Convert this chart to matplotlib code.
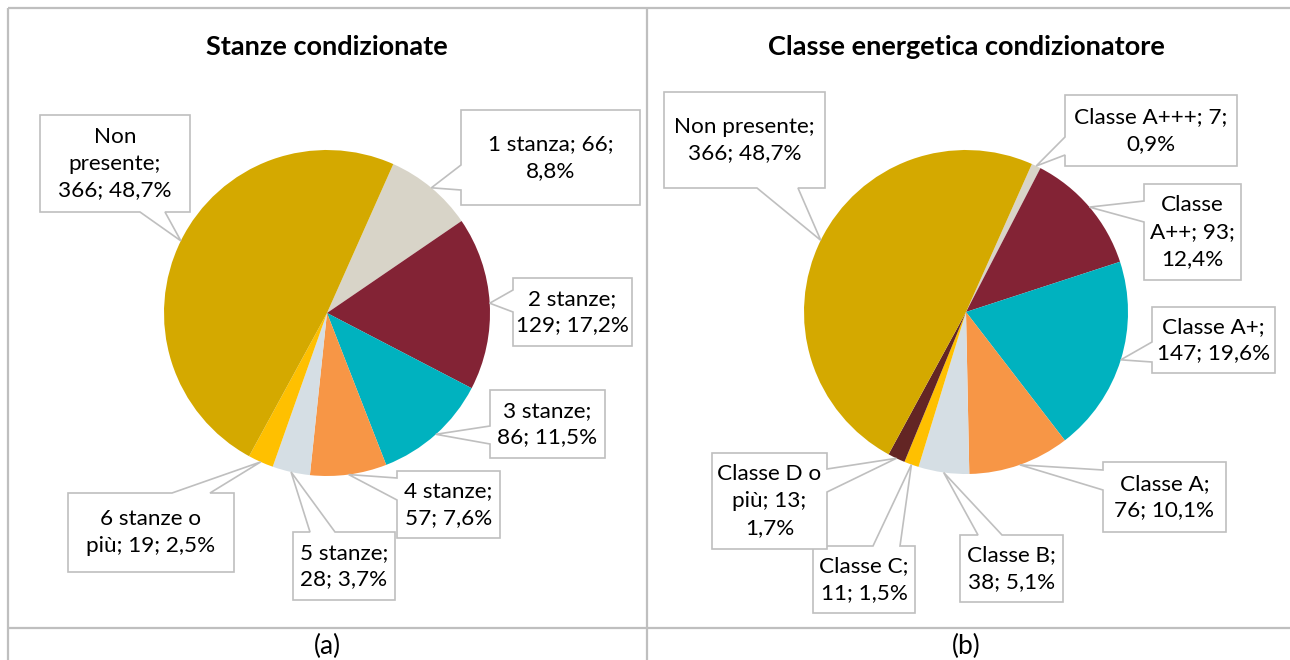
#!/usr/bin/env python3
"""Two pie charts with Excel-style callout labels: air-conditioned rooms and
energy class of the air conditioner."""

import textwrap

import matplotlib

matplotlib.use("Agg")
import matplotlib.pyplot as plt
import numpy as np
from matplotlib.patches import Polygon

W, H = 1290, 660

GOLD = "#D4A900"
BEIGE = "#D8D4C8"
MAROON = "#832335"
TEAL = "#00B2BF"
ORANGE = "#F79646"
PALE = "#D5DEE4"
YELLOW = "#FFC000"
DARK = "#632524"
LINE = "#BFBFBF"

# --- data -------------------------------------------------------------------
STANZE_TITLE = "Stanze condizionate"
STANZE_LABELS = ["1 stanza", "2 stanze", "3 stanze", "4 stanze", "5 stanze",
                 "6 stanze o più", "Non presente"]
STANZE_COUNTS = [66, 129, 86, 57, 28, 19, 366]
STANZE_COLORS = [BEIGE, MAROON, TEAL, ORANGE, PALE, YELLOW, GOLD]

CLASSE_TITLE = "Classe energetica condizionatore"
CLASSE_LABELS = ["Classe A+++", "Classe A++", "Classe A+", "Classe A",
                 "Classe B", "Classe C", "Classe D o più", "Non presente"]
CLASSE_COUNTS = [7, 93, 147, 76, 38, 11, 13, 366]
CLASSE_COLORS = [BEIGE, MAROON, TEAL, ORANGE, PALE, YELLOW, DARK, GOLD]

PANEL_TAGS = ["(a)", "(b)"]

# --- layout (pixels from top-left) ------------------------------------------
STANZE_PIE = (327, 313, 163)
STANZE_WRAP = [13, 10, 10, 10, 10, 13, 10]
STANZE_BOXES = [
    ((461, 110, 640, 205), "left", (165, 190)),
    ((513, 278, 632, 346), "left", (290, 312)),
    ((490, 390, 605, 458), "left", (426, 444)),
    ((397, 471, 500, 538), "left", (478, 500)),
    ((293, 532, 395, 600), "top", (310, 335)),
    ((68, 493, 234, 572), "top", (172, 210)),
    ((40, 115, 190, 212), "bottom", (140, 165)),
]

CLASSE_PIE = (966, 312, 162)
CLASSE_WRAP = [15, 8, 10, 10, 10, 10, 10, 13]
CLASSE_BOXES = [
    ((1065, 95, 1237, 166), "left", (137, 155)),
    ((1144, 184, 1241, 280), "left", (201, 222)),
    ((1152, 307, 1275, 373), "left", (342, 362)),
    ((1103, 462, 1226, 532), "left", (470, 490)),
    ((960, 535, 1063, 602), "top", (978, 1002)),
    ((813, 546, 915, 613), "top", (873, 900)),
    ((712, 453, 827, 549), "right", (469, 492)),
    ((664, 92, 825, 188), "bottom", (757, 798)),
]

LABEL_SIZE = 16.2
TITLE_SIZE = 19.5
TAG_SIZE = 19


def pct(count: int, total: int) -> str:
    return f"{100 * count / total:.1f}%".replace(".", ",")


def callout(ax, box, side, base, tip, text):
    x0, y0, x1, y1 = box
    a, b = base
    pts = [(x0, y0)]
    if side == "top":
        pts += [(a, y0), tip, (b, y0)]
    pts.append((x1, y0))
    if side == "right":
        pts += [(x1, a), tip, (x1, b)]
    pts.append((x1, y1))
    if side == "bottom":
        pts += [(b, y1), tip, (a, y1)]
    pts.append((x0, y1))
    if side == "left":
        pts += [(x0, b), tip, (x0, a)]
    ax.add_patch(Polygon([(x, H - y) for x, y in pts], closed=True,
                         facecolor="white", edgecolor=LINE, linewidth=1.2,
                         joinstyle="miter", zorder=3))
    ax.text((x0 + x1) / 2, H - (y0 + y1) / 2, text, ha="center",
            va="center", ma="center", fontsize=LABEL_SIZE, linespacing=1.42,
            color="#000000", zorder=4)


def draw_panel(ax, title, labels, counts, colors, pie, wraps, boxes):
    cx, cy, r = pie
    wedges, _ = ax.pie(counts, colors=colors, startangle=66,
                       counterclock=False, center=(cx, H - cy), radius=r,
                       wedgeprops=dict(linewidth=0))
    total = sum(counts)
    for wedge, name, count, width, (box, side, base) in zip(
            wedges, labels, counts, wraps, boxes):
        mid = np.deg2rad((wedge.theta1 + wedge.theta2) / 2)
        tip = (cx + r * np.cos(mid), cy - r * np.sin(mid))
        text = textwrap.fill(f"{name}; {count}; {pct(count, total)}", width)
        callout(ax, box, side, base, tip, text)
    ax.text(cx, H - 47, title, ha="center", va="center",
            fontsize=TITLE_SIZE, fontweight="bold")


def main() -> None:
    plt.rcParams["font.family"] = ["Lato", "DejaVu Sans"]
    fig = plt.figure(figsize=(W / 100, H / 100), dpi=100)
    ax = fig.add_axes([0, 0, 1, 1])

    draw_panel(ax, STANZE_TITLE, STANZE_LABELS, STANZE_COUNTS, STANZE_COLORS,
               STANZE_PIE, STANZE_WRAP, STANZE_BOXES)
    draw_panel(ax, CLASSE_TITLE, CLASSE_LABELS, CLASSE_COUNTS, CLASSE_COLORS,
               CLASSE_PIE, CLASSE_WRAP, CLASSE_BOXES)

    # table grid
    grid = dict(color=LINE, linewidth=1.6, solid_capstyle="butt", zorder=1)
    ax.plot([8, W], [H - 8, H - 8], **grid)
    ax.plot([8, 8], [H - 8, 0], **grid)
    ax.plot([647, 647], [H - 8, 0], **grid)
    ax.plot([8, W], [H - 628, H - 628], **grid)

    for tag, (cx, _, _) in zip(PANEL_TAGS, (STANZE_PIE, CLASSE_PIE)):
        ax.text(cx, H - 646, tag, ha="center", va="center", fontsize=TAG_SIZE)

    ax.set_xlim(0, W)
    ax.set_ylim(0, H)
    ax.set_aspect("auto")
    ax.axis("off")
    fig.savefig("out.png", dpi=100)
    plt.close(fig)


if __name__ == "__main__":
    main()
